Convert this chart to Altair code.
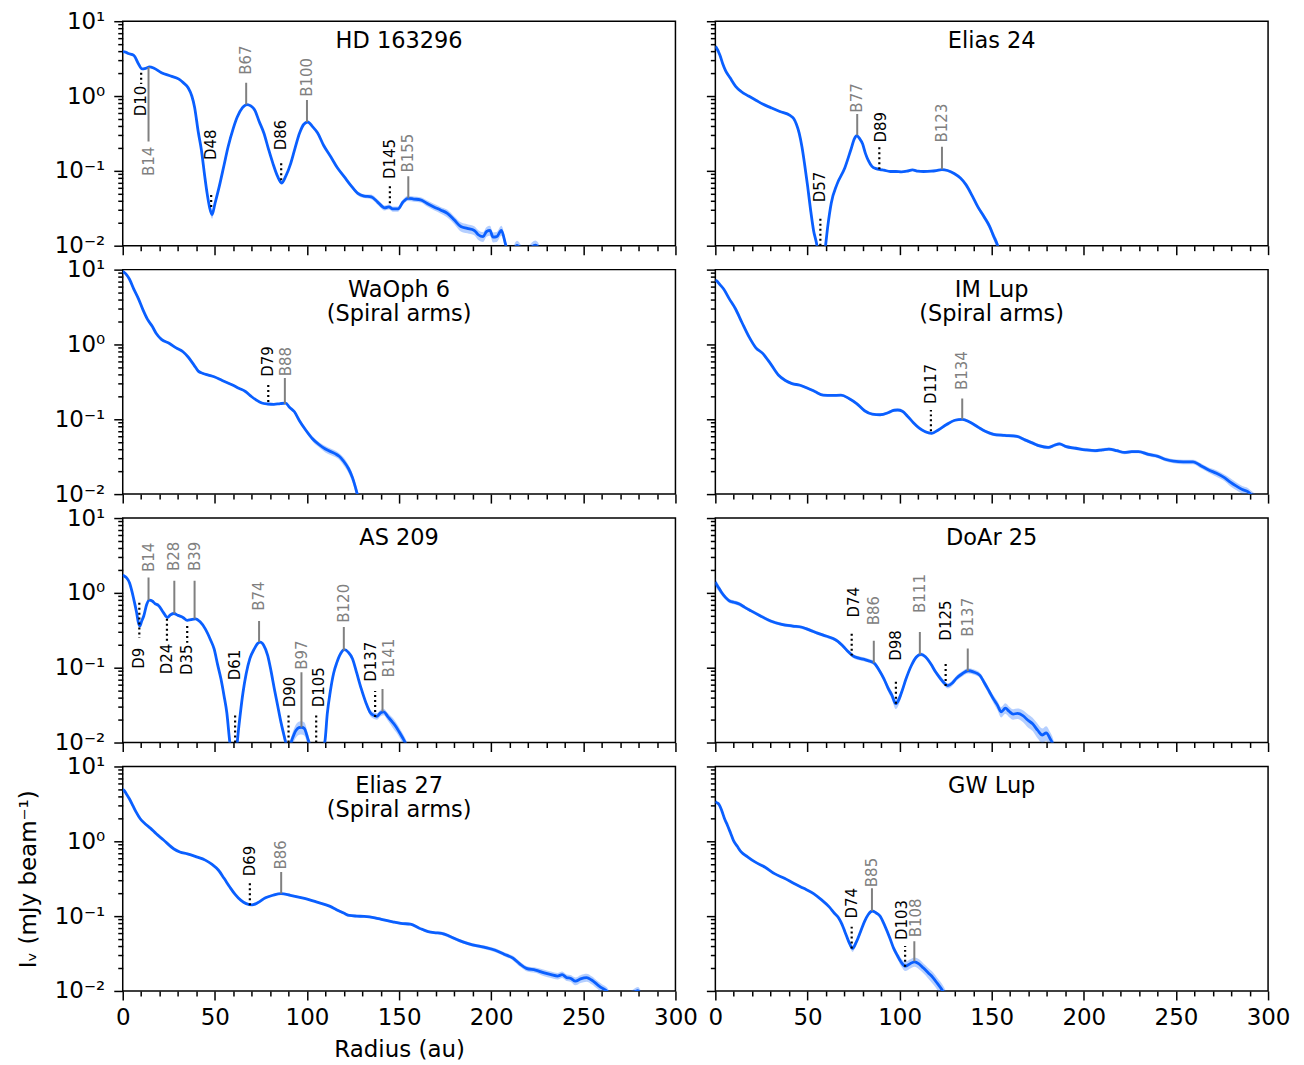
import altair as alt
import pandas as pd

FONT = "DejaVu Sans"
BLUE = "#0a5fff"
GREY = "#808080"
W, H = 554, 225

# ---------------- radial profiles: (radius au, intensity mJy/beam, fractional band) ----------------
hd163296 = [
    (0, 3.9, .03), (1, 3.9, .03), (3, 3.7, .03), (6, 3.5, .03), (8.5, 2.7, .03), (10.5, 2.3, .03),
    (12.5, 2.35, .03), (14.5, 2.45, .03), (17, 2.35, .03), (21, 2.05, .03), (26, 1.85, .03),
    (30.5, 1.68, .03), (33, 1.5, .03), (35.5, 1.29, .03), (37.5, 1.0, .03), (39, 0.71, .03),
    (41, 0.33, .03), (42.7, 0.19, .04), (44.5, 0.085, .05), (45.8, 0.05, .06), (47.2, 0.032, .1),
    (48.5, 0.026, .12), (50, 0.036, .08), (52.4, 0.062, .05), (55, 0.12, .04), (57.2, 0.21, .03),
    (60, 0.37, .03), (62.1, 0.52, .03), (65, 0.7, .03), (67.4, 0.77, .03), (69.5, 0.74, .03),
    (71.8, 0.64, .03), (74, 0.46, .03), (76.6, 0.32, .03), (79, 0.2, .03), (81.5, 0.126, .04),
    (84, 0.085, .05), (86.3, 0.069, .06), (88.5, 0.085, .05), (91.2, 0.126, .04), (93.5, 0.2, .03),
    (96, 0.32, .03), (98.3, 0.42, .03), (100.4, 0.45, .03), (103, 0.39, .03), (105.8, 0.32, .03),
    (109, 0.22, .03), (113, 0.153, .03), (116.5, 0.11, .04), (120.3, 0.083, .04), (124, 0.063, .05),
    (127.6, 0.05, .06), (131, 0.046, .06), (134.9, 0.045, .07), (138.5, 0.038, .08), (142.2, 0.032, .08),
    (144.5, 0.033, .08), (146.5, 0.031, .08), (149.4, 0.031, .08), (152, 0.038, .08), (154.8, 0.043, .08),
    (158, 0.042, .08), (161.6, 0.041, .08), (165, 0.037, .09), (168.9, 0.033, .1), (172.5, 0.030, .1),
    (176.2, 0.027, .12), (180, 0.022, .12), (183.5, 0.018, .14), (187, 0.017, .14), (190.8, 0.016, .14),
    (193, 0.014, .15), (195.6, 0.0132, .15), (197.5, 0.0155, .15), (199.3, 0.016, .15), (201, 0.013, .15),
    (203, 0.0132, .15), (205.5, 0.016, .15), (207.9, 0.0102, .15), (210, 0.007, .15), (214, 0.0101, .15),
    (218, 0.008, .15), (224, 0.0102, .15), (228, 0.007, .15),
]
elias24 = [
    (0, 4.6, .03), (0.6, 4.4, .03), (2.5, 3.5, .03), (4, 2.7, .03), (5.6, 2.17, .03), (8, 1.75, .03),
    (11, 1.35, .03), (14, 1.15, .03), (18, 1.0, .03), (22, 0.88, .03), (25.7, 0.78, .03), (30, 0.7, .03),
    (35, 0.62, .03), (40.5, 0.55, .03), (42.5, 0.5, .03), (44, 0.42, .03), (45.5, 0.32, .03),
    (47, 0.21, .03), (48.5, 0.12, .04), (50.1, 0.062, .05), (51.7, 0.03, .08), (53.3, 0.016, .1),
    (55, 0.0105, .12), (56.5, 0.006, .12), (58.5, 0.006, .12), (59.7, 0.0095, .12), (61, 0.018, .08),
    (62.9, 0.037, .05), (66, 0.066, .04), (70.3, 0.11, .03), (73.5, 0.19, .03), (75.5, 0.27, .03),
    (76.7, 0.295, .03), (78.3, 0.27, .03), (79.9, 0.23, .03), (81.5, 0.17, .03), (83, 0.138, .03),
    (85, 0.115, .03), (87.3, 0.107, .03), (89.5, 0.104, .03), (91.5, 0.102, .03), (95, 0.098, .03),
    (98, 0.098, .03), (101, 0.097, .03), (104, 0.099, .03), (107, 0.103, .03), (110, 0.099, .03),
    (113, 0.098, .03), (117, 0.099, .03), (120, 0.101, .03), (123, 0.104, .03), (126, 0.101, .03),
    (129.6, 0.092, .03), (133, 0.08, .03), (136.1, 0.065, .04), (139.5, 0.046, .05), (142.5, 0.033, .06),
    (146, 0.024, .08), (148.9, 0.018, .1), (151, 0.0135, .12), (153.1, 0.0102, .14), (155, 0.007, .15),
]
waoph6 = [
    (0, 9.5, .03), (0.7, 9.2, .03), (2, 8.6, .03), (3.6, 7.5, .03), (6, 5.5, .03), (8.5, 4.1, .03),
    (11, 2.9, .03), (13.3, 2.2, .03), (16, 1.75, .03), (18.2, 1.4, .03), (21, 1.17, .03), (25.4, 1.03, .03),
    (29, 0.9, .03), (32.7, 0.8, .03), (35.5, 0.68, .03), (38.7, 0.53, .03), (41, 0.44, .03), (43.6, 0.41, .03),
    (46.5, 0.39, .03), (49.6, 0.37, .03), (54, 0.33, .03), (59.3, 0.29, .03), (63, 0.26, .03),
    (66.6, 0.235, .03), (70, 0.2, .03), (72.6, 0.18, .03), (75.5, 0.165, .03), (78.7, 0.16, .03),
    (82, 0.158, .03), (85.5, 0.162, .03), (88.4, 0.164, .03), (90.5, 0.145, .03), (93.2, 0.126, .04),
    (96, 0.095, .05), (99.3, 0.072, .06), (103, 0.055, .08), (106.5, 0.046, .08), (110, 0.04, .1),
    (115, 0.035, .1), (117.5, 0.032, .1), (119.9, 0.0275, .12), (122.5, 0.022, .12), (124.7, 0.0166, .14),
    (127.1, 0.0105, .15), (129, 0.007, .15),
]
imlup = [
    (0, 7.2, .03), (0.6, 7.1, .03), (2.5, 6.3, .03), (4.5, 5.5, .03), (7.5, 4.1, .03), (10.9, 3.0, .03),
    (14.5, 1.95, .03), (18.3, 1.26, .03), (22, 0.9, .03), (25.7, 0.76, .03), (30, 0.55, .03),
    (34.2, 0.39, .03), (38, 0.33, .04), (41.6, 0.3, .04), (46, 0.285, .04), (50.1, 0.26, .04),
    (54, 0.235, .04), (58.6, 0.21, .04), (63, 0.208, .04), (68.2, 0.21, .04), (72.5, 0.19, .04),
    (76.7, 0.162, .04), (81, 0.13, .04), (85.2, 0.117, .04), (89.4, 0.115, .04), (94, 0.123, .04),
    (97, 0.132, .04), (99, 0.133, .04), (101.5, 0.128, .04), (104.3, 0.11, .04), (107.5, 0.09, .04),
    (110.7, 0.076, .04), (114, 0.068, .04), (117.4, 0.065, .04), (121, 0.072, .04), (125.5, 0.085, .04),
    (130, 0.097, .04), (134, 0.1, .04), (138, 0.092, .04), (142.5, 0.079, .04), (146.5, 0.069, .04),
    (151, 0.063, .05), (157, 0.061, .05), (163.7, 0.059, .05), (168, 0.053, .05), (172.3, 0.048, .05),
    (176, 0.044, .05), (180.7, 0.042, .05), (184, 0.045, .05), (186.7, 0.047, .05), (190.5, 0.043, .05),
    (195.6, 0.041, .05), (201, 0.039, .05), (206.2, 0.038, .05), (210, 0.039, .05), (213.6, 0.04, .05),
    (218, 0.038, .05), (222.1, 0.036, .05), (226, 0.037, .05), (229.6, 0.037, .05), (235, 0.034, .06),
    (240.2, 0.032, .06), (244.5, 0.029, .06), (248.7, 0.0275, .06), (254, 0.027, .07), (259.3, 0.027, .07),
    (263.5, 0.024, .08), (267.8, 0.021, .08), (272, 0.019, .1), (276.3, 0.0166, .1), (279.5, 0.0145, .12),
    (282.6, 0.0129, .12), (286, 0.0115, .12), (289, 0.0108, .12), (291, 0.0098, .12), (293, 0.009, .12),
]
as209 = [
    (0, 1.75, .03), (0.7, 1.69, .03), (2, 1.6, .03), (3.6, 1.38, .03), (5, 1.05, .03), (6, 0.82, .03),
    (7.5, 0.55, .03), (8.5, 0.4, .03), (9.3, 0.36, .03), (10.3, 0.42, .03), (11.4, 0.49, .03), (13, 0.7, .03),
    (14.5, 0.8, .03), (16, 0.78, .03), (17.5, 0.72, .03), (19.4, 0.68, .03), (22, 0.55, .03), (24.2, 0.47, .03),
    (26, 0.51, .03), (27.8, 0.53, .03), (30, 0.5, .03), (32.7, 0.47, .03), (35, 0.43, .03), (37, 0.44, .03),
    (39.5, 0.45, .03), (42, 0.41, .03), (44.8, 0.33, .03), (47.5, 0.24, .03), (49.6, 0.178, .03),
    (51.5, 0.11, .04), (53.3, 0.071, .05), (55, 0.042, .06), (56.5, 0.025, .08), (58.1, 0.0102, .12),
    (59.5, 0.006, .12), (61, 0.004, .12), (62.2, 0.0102, .12), (63.8, 0.024, .08), (65.3, 0.047, .05),
    (67, 0.083, .04), (69, 0.132, .03), (71.5, 0.18, .03), (73.2, 0.21, .03), (74.6, 0.22, .03),
    (76.5, 0.2, .03), (78.7, 0.145, .03), (80.5, 0.09, .04), (82.3, 0.052, .05), (84, 0.032, .08),
    (85.9, 0.0186, .12), (87.2, 0.0135, .15), (88.4, 0.0102, .15), (90, 0.008, .15), (92, 0.0112, .18),
    (94, 0.0145, .2), (95.6, 0.0158, .2), (97, 0.016, .2), (98.5, 0.0155, .2), (100.5, 0.0112, .18),
    (102, 0.0085, .15), (105, 0.006, .15), (108, 0.008, .15), (109.7, 0.0102, .12), (111, 0.024, .08),
    (112.6, 0.047, .05), (114.5, 0.085, .04), (116.2, 0.117, .03), (118.3, 0.155, .03), (120.3, 0.174, .03),
    (122.5, 0.16, .03), (124.7, 0.132, .03), (127, 0.085, .04), (129.5, 0.052, .05), (132, 0.034, .07),
    (134.4, 0.025, .1), (136.5, 0.023, .1), (138, 0.0224, .1), (140, 0.025, .1), (141.6, 0.0257, .1),
    (144, 0.022, .12), (146.5, 0.0186, .15), (148.5, 0.016, .15), (150.1, 0.0138, .15), (152, 0.0115, .15),
    (153.3, 0.01, .15), (155, 0.008, .15),
]
doar25 = [
    (0, 1.4, .12), (0.6, 1.3, .12), (2, 1.15, .1), (3.4, 1.01, .08), (5.5, 0.87, .07), (7.7, 0.78, .06),
    (10, 0.75, .06), (13, 0.71, .06), (16, 0.64, .05), (19.4, 0.575, .05), (24, 0.5, .05), (30, 0.42, .05),
    (36, 0.38, .05), (42, 0.36, .05), (47, 0.347, .05), (51, 0.32, .05), (55.4, 0.29, .05), (60, 0.265, .05),
    (63.9, 0.245, .05), (66.5, 0.225, .05), (69.2, 0.195, .05), (72, 0.165, .06), (74.5, 0.145, .06),
    (77.5, 0.135, .06), (80.9, 0.129, .06), (84, 0.122, .06), (86.2, 0.115, .06), (89, 0.092, .07),
    (91.5, 0.071, .08), (93.8, 0.053, .1), (95.8, 0.043, .12), (97.9, 0.033, .15), (99.5, 0.037, .14),
    (101.1, 0.047, .1), (103.5, 0.071, .08), (106.4, 0.107, .06), (109, 0.138, .06), (111.7, 0.151, .06),
    (114, 0.14, .06), (117, 0.112, .06), (119.5, 0.088, .07), (122.3, 0.071, .08), (124.3, 0.062, .08),
    (126.2, 0.0575, .08), (128.5, 0.062, .08), (130.8, 0.072, .08), (134, 0.083, .08), (137.2, 0.091, .08),
    (140, 0.088, .08), (143.6, 0.079, .08), (146, 0.063, .1), (148.9, 0.047, .1), (151, 0.038, .12),
    (153.1, 0.0316, .14), (155.2, 0.0257, .16), (157.4, 0.0288, .16), (159.5, 0.026, .16),
    (161.6, 0.024, .16), (164, 0.0245, .16), (166.9, 0.0229, .18), (169.5, 0.02, .2), (172.2, 0.0178, .2),
    (175, 0.0145, .22), (177.5, 0.0126, .22), (179.6, 0.0135, .22), (181.5, 0.0115, .22), (182.8, 0.01, .22),
    (184, 0.008, .22),
]
elias27 = [
    (0, 4.9, .03), (0.7, 4.8, .03), (2, 4.3, .03), (3.6, 3.7, .03), (5.5, 3.0, .03), (7.3, 2.45, .03),
    (9.5, 2.0, .03), (12.1, 1.72, .03), (15, 1.5, .03), (18.2, 1.26, .03), (22, 1.05, .03), (27.8, 0.79, .03),
    (31, 0.72, .03), (35.1, 0.68, .03), (40, 0.62, .03), (44.8, 0.56, .03), (48.5, 0.49, .03), (52, 0.41, .03),
    (55, 0.32, .03), (58.1, 0.245, .03), (61, 0.195, .03), (64.2, 0.162, .03), (67, 0.147, .03),
    (70.2, 0.141, .03), (73.5, 0.152, .03), (77.5, 0.176, .03), (81.5, 0.19, .03), (85.9, 0.2, .03),
    (91, 0.19, .03), (98, 0.174, .03), (105, 0.155, .03), (112.6, 0.135, .03), (116, 0.122, .04),
    (119.9, 0.11, .04), (123, 0.102, .04), (127.1, 0.1, .04), (131, 0.099, .04), (136.8, 0.095, .04),
    (141, 0.09, .04), (146.5, 0.084, .04), (151, 0.08, .04), (156.2, 0.078, .04), (161, 0.069, .04),
    (165.8, 0.062, .04), (169, 0.06, .04), (173.1, 0.059, .05), (178, 0.053, .05), (182.8, 0.047, .05),
    (187.5, 0.043, .05), (192.5, 0.04, .05), (197, 0.038, .06), (202.2, 0.035, .06), (207, 0.031, .06),
    (211.8, 0.0275, .07), (215.5, 0.023, .08), (219.1, 0.02, .08), (224, 0.019, .08), (228.8, 0.0174, .1),
    (232.5, 0.0165, .1), (236, 0.0158, .1), (238.5, 0.0165, .1), (240.9, 0.0151, .1), (243, 0.0148, .1),
    (245.7, 0.0135, .12), (248.5, 0.0145, .12), (251.8, 0.0151, .12), (254.5, 0.014, .12), (257.9, 0.012, .12),
    (260.5, 0.0108, .12), (262.7, 0.01, .12), (265, 0.0085, .12), (272, 0.008, .12), (276, 0.009, .12),
    (279.6, 0.0101, .12), (282, 0.008, .12),
]
gwlup = [
    (0, 3.4, .03), (0.6, 3.3, .03), (2, 3.1, .03), (3.4, 2.6, .03), (5, 2.0, .03), (6.6, 1.63, .03),
    (8.2, 1.3, .03), (9.8, 1.03, .03), (12, 0.85, .03), (14, 0.72, .03), (17.5, 0.62, .03), (21.5, 0.53, .03),
    (27, 0.45, .03), (32.1, 0.37, .03), (37.5, 0.32, .03), (42.7, 0.273, .03), (48, 0.235, .03),
    (53.3, 0.2, .03), (57.5, 0.166, .03), (61.8, 0.133, .03), (64.5, 0.11, .03), (67.1, 0.093, .04),
    (68.8, 0.077, .04), (70.3, 0.062, .05), (72.5, 0.045, .08), (74.5, 0.037, .1), (76.5, 0.045, .08),
    (78.8, 0.062, .05), (81, 0.085, .04), (83, 0.105, .04), (85.2, 0.117, .04), (87.3, 0.11, .04),
    (89.4, 0.1, .04), (92, 0.074, .05), (94.7, 0.051, .06), (96.8, 0.037, .08), (98.9, 0.0295, .1),
    (101, 0.024, .12), (103.2, 0.0214, .14), (105.5, 0.023, .14), (108.1, 0.0245, .14), (110.5, 0.023, .15),
    (112.8, 0.0204, .15), (115.5, 0.0175, .16), (118.1, 0.0151, .18), (120.5, 0.0126, .18),
    (123.4, 0.01, .2), (126, 0.0075, .2),
]

# ---- annotations: (label, radius, line from, line to, label anchor, label side, label radius) ----
hd163296_ann = [
    ("D10", 10, 2.05, 1.45, 1.37, "down", 10), ("B14", 14, 2.45, 0.247, 0.21, "down", 14.5),
    ("D48", 48, 0.033, 0.052, 0.14, "up", 48), ("B67", 67, 0.77, 1.5, 1.92, "up", 67),
    ("D86", 86, 0.075, 0.134, 0.188, "up", 86), ("B100", 100, 0.45, 0.886, 0.98, "up", 100),
    ("D145", 145, 0.037, 0.068, 0.078, "up", 145), ("B155", 155, 0.043, 0.085, 0.095, "up", 155),
]
elias24_ann = [
    ("D57", 57, 0.01, 0.0245, 0.038, "up", 57), ("B77", 77, 0.3, 0.575, 0.6, "up", 77),
    ("D89", 89, 0.105, 0.21, 0.24, "up", 90), ("B123", 123, 0.105, 0.21, 0.24, "up", 123),
]
waoph6_ann = [
    ("D79", 79, 0.17, 0.316, 0.37, "up", 79), ("B88", 88, 0.16, 0.355, 0.375, "up", 88.4),
]
imlup_ann = [
    ("D117", 117, 0.069, 0.133, 0.16, "up", 117), ("B134", 134, 0.1, 0.19, 0.246, "up", 134),
]
as209_ann = [
    ("D9", 9, 0.74, 0.25, 0.185, "down", 9), ("B14", 14, 0.8, 1.6, 1.9, "up", 14),
    ("D24", 24, 0.45, 0.229, 0.209, "down", 24), ("B28", 28, 0.53, 1.45, 1.96, "up", 28),
    ("D35", 35, 0.36, 0.215, 0.205, "down", 35), ("B39", 39, 0.45, 1.45, 1.96, "up", 39),
    ("D61", 61, 0.01, 0.024, 0.068, "up", 61), ("B74", 74, 0.22, 0.42, 0.575, "up", 74),
    ("D90", 90, 0.01, 0.025, 0.0295, "up", 90.6), ("B97", 97, 0.016, 0.087, 0.094, "up", 97.3),
    ("D105", 105, 0.01, 0.024, 0.0295, "up", 106.5), ("B120", 120, 0.17, 0.35, 0.4, "up", 120),
    ("D137", 137, 0.022, 0.049, 0.065, "up", 134.8), ("B141", 141, 0.026, 0.052, 0.074, "up", 144.4),
]
doar25_ann = [
    ("D74", 74, 0.145, 0.295, 0.47, "up", 75.3), ("B86", 86, 0.115, 0.23, 0.37, "up", 86),
    ("D98", 98, 0.033, 0.071, 0.124, "up", 98), ("B111", 111, 0.15, 0.3, 0.54, "up", 111),
    ("D125", 125, 0.057, 0.117, 0.23, "up", 125), ("B137", 137, 0.09, 0.18, 0.26, "up", 137),
]
elias27_ann = [
    ("D69", 69, 0.14, 0.30, 0.34, "up", 69), ("B86", 86, 0.2, 0.39, 0.42, "up", 86),
]
gwlup_ann = [
    ("D74", 74, 0.037, 0.072, 0.093, "up", 74), ("B85", 85, 0.117, 0.235, 0.244, "up", 85),
    ("D103", 103, 0.021, 0.04, 0.048, "up", 101.5), ("B108", 108, 0.025, 0.046, 0.052, "up", 109),
]

panel_titles = [
    ["HD 163296"], ["Elias 24"],
    ["WaOph 6", "(Spiral arms)"], ["IM Lup", "(Spiral arms)"],
    ["AS 209"], ["DoAr 25"],
    ["Elias 27", "(Spiral arms)"], ["GW Lup"],
]
profiles = [hd163296, elias24, waoph6, imlup, as209, doar25, elias27, gwlup]
annotations = [hd163296_ann, elias24_ann, waoph6_ann, imlup_ann, as209_ann, doar25_ann, elias27_ann, gwlup_ann]

x_ticks = list(range(0, 301, 10))
y_ticks = [m * 10 ** k for k in (-2, -1, 0) for m in range(1, 10)] + [10]
Y_MAJOR = "datum.value == 0.01 || datum.value == 0.1 || datum.value == 1 || datum.value == 10"
Y_LABEL = ("datum.value == 10 ? '10¹' : datum.value == 1 ? '10⁰' : "
           "datum.value == 0.1 ? '10⁻¹' : datum.value == 0.01 ? '10⁻²' : ''")

LABEL_SIZE = 23


def x_axis(show_labels, title):
    kw = dict(
        values=x_ticks, grid=False, domain=False, tickColor="black", tickWidth=1.5,
        tickSize={"condition": {"test": "datum.value % 50 == 0", "value": 9}, "value": 5},
        labels=show_labels, labelFont=FONT, labelFontSize=LABEL_SIZE, labelColor="black",
        labelPadding=7, labelFlush=False, labelOverlap=False, format="d",
        labelExpr="datum.value % 50 == 0 ? datum.label : ''",
        titleFont=FONT, titleFontSize=LABEL_SIZE, titleFontWeight="normal", titleColor="black",
        titlePadding=9, title=title,
    )
    return alt.Axis(**kw)


def y_axis(show_labels, title):
    kw = dict(
        values=y_ticks, grid=False, domain=False, tickColor="black", tickWidth=1.5,
        tickSize={"condition": {"test": Y_MAJOR, "value": 9}, "value": 5},
        labels=show_labels, labelFont=FONT, labelFontSize=LABEL_SIZE, labelColor="black",
        labelPadding=9, labelFlush=False, labelOverlap=False, labelExpr=Y_LABEL,
        titleFont=FONT, titleFontSize=LABEL_SIZE, titleFontWeight="normal", titleColor="black",
        titlePadding=14, title=title,
    )
    return alt.Axis(**kw)


def make_panel(i):
    col, row = i % 2, i // 2
    prof = pd.DataFrame(profiles[i], columns=["r", "I", "e"])
    prof["lo"] = prof["I"] * (1 - prof["e"])
    prof["hi"] = prof["I"] * (1 + prof["e"])
    ann = pd.DataFrame(annotations[i], columns=["label", "r", "y0", "y1", "ylab", "side", "lx"])
    ann["kind"] = ann["label"].str[0]

    xs = alt.Scale(domain=[0, 300], nice=False, zero=False)
    ys = alt.Scale(type="log", domain=[0.01, 10], nice=False)
    xa = x_axis(row == 3, "Radius (au)" if (row == 3 and col == 0) else None)
    ya = y_axis(col == 0, "Iᵥ (mJy beam⁻¹)" if (row == 3 and col == 0) else None)

    def X(f="r"):
        return alt.X(f"{f}:Q", scale=xs, axis=xa)

    def Y(f):
        return alt.Y(f"{f}:Q", scale=ys, axis=ya)

    band = alt.Chart(prof).mark_area(clip=True, interpolate="monotone", color=BLUE, opacity=0.3).encode(
        x=X(), y=Y("lo"), y2="hi:Q")
    line = alt.Chart(prof).mark_line(clip=True, interpolate="monotone", color=BLUE, strokeWidth=2.8).encode(
        x=X(), y=Y("I"))
    gaps = alt.Chart(ann).transform_filter("datum.kind == 'D'").mark_rule(
        color="black", strokeDash=[2, 3], strokeWidth=2.2, clip=True).encode(x=X(), y=Y("y0"), y2="y1:Q")
    rings = alt.Chart(ann).transform_filter("datum.kind == 'B'").mark_rule(
        color=GREY, strokeWidth=2, clip=True).encode(x=X(), y=Y("y0"), y2="y1:Q")
    color = alt.Color("kind:N", scale=alt.Scale(domain=["D", "B"], range=["black", GREY]), legend=None)
    txt_up = alt.Chart(ann).transform_filter("datum.side == 'up'").mark_text(
        angle=270, align="left", baseline="middle", font=FONT, fontSize=15).encode(
        x=X("lx"), y=Y("ylab"), text="label:N", color=color)
    txt_dn = alt.Chart(ann).transform_filter("datum.side == 'down'").mark_text(
        angle=270, align="right", baseline="middle", font=FONT, fontSize=15).encode(
        x=X("lx"), y=Y("ylab"), text="label:N", color=color)
    title = alt.Chart(pd.DataFrame({"t": [0]})).mark_text(
        text=panel_titles[i], font=FONT, fontSize=22.5, baseline="top", align="center",
        lineHeight=24, color="black").encode(x=alt.value(W / 2), y=alt.value(9))
    return alt.layer(band, line, gaps, rings, txt_up, txt_dn, title).properties(width=W, height=H)


chart = alt.concat(
    *[make_panel(i) for i in range(8)], columns=2,
    spacing={"row": 24, "column": 40}, bounds="flush",
).properties(
    padding={"left": 8, "top": 0, "right": 5, "bottom": 5}
).configure(background="white").configure_view(stroke="black", strokeWidth=1.5)

chart.save("out.html", embed_options={"renderer": "svg", "actions": False})
